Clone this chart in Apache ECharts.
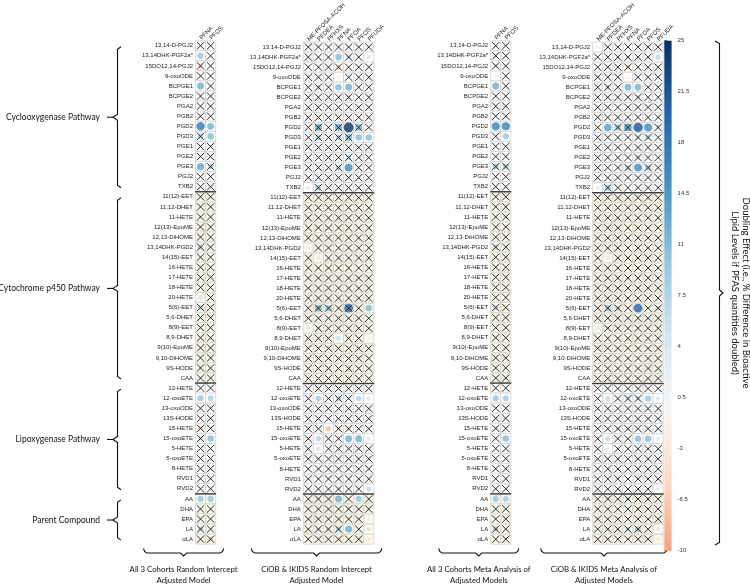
<!DOCTYPE html>
<html><head><meta charset="utf-8">
<script src="https://cdn.jsdelivr.net/npm/echarts@6/dist/echarts.min.js"></script>
<style>html,body{margin:0;padding:0;background:#fff}#c{width:750px;height:587px}</style>
</head><body><div id="c"></div>
<script>
// ---------- data ----------
const coxLipids = ['13,14-D-PGJ2','13,14DHK-PGF2a*','15DO12,14-PGJ2','9-oxoODE','BCPGE1','BCPGE2','PGA2','PGB2','PGD2','PGD3','PGE1','PGE2','PGE3','PGJ2','TXB2'];
const cypLipids = ['11(12)-EET','11,12-DHET','11-HETE','12(13)-EpoME','12,13-DiHOME','13,14DHK-PGD2','14(15)-EET','16-HETE','17-HETE','18-HETE','20-HETE','5(6)-EET','5,6-DHET','8(9)-EET','8,9-DHET','9(10)-EpoME','9,10-DiHOME','9S-HODE','CAA'];
const loxLipids = ['12-HETE','12-oxoETE','13-oxoODE','13S-HODE','15-HETE','15-oxoETE','5-HETE','5-oxoETE','8-HETE','RVD1','RVD2'];
const parentLipids = ['AA','DHA','EPA','LA','αLA'];
const sectionNames = ['Cyclooxygenase Pathway','Cytochrome p450 Pathway','Lipoxygenase Pathway','Parent Compound'];
const pfasTwo = ['PFNA','PFOS'];
const pfasSeven = ['ME-PFOSA-ACOH','PFDEA','PFHXS','PFNA','PFOA','PFOS','PFUDA'];
const colorbarTicks = [-10,-6.5,-3,0.5,4,7.5,11,14.5,18,21.5,25];
const panelTitles = [
  ['All 3 Cohorts Random Intercept','Adjusted Model'],
  ['CiOB & IKIDS Random Intercept','Adjusted Model'],
  ['All 3 Cohorts Meta Analysis of','Adjusted Models'],
  ['CiOB & IKIDS Meta Analysis of','Adjusted Models']
];
const legendTitle = 'Doubling Effect (i.e., % Difference in Bioactive\nLipid Levels if PFAS quantities doubled)';
// cells that are not near zero: [lipid, PFAS, doubling effect %, significant]
// every other cell reads as a plain non-significant X (≈0)
const panel1Cells = [
 ['13,14DHK-PGF2a*','PFNA',10,1],['15DO12,14-PGJ2','PFNA',-6,0],['BCPGE1','PFNA',12.5,1],
 ['PGD2','PFNA',18,1],['PGD2','PFOS',12,1],['PGD3','PFNA',8,0],['PGD3','PFOS',11,1],
 ['PGE3','PFNA',13.5,1],['PGE3','PFOS',8,0],
 ['13,14DHK-PGD2','PFNA',7,0],['20-HETE','PFNA',5,1],['5(6)-EET','PFNA',7,0],
 ['12-oxoETE','PFNA',10,1],['12-oxoETE','PFOS',8.5,1],['15-HETE','PFNA',-6,0],
 ['15-oxoETE','PFNA',6,0],['15-oxoETE','PFOS',11,1],
 ['AA','PFNA',10,1],['AA','PFOS',10,1],['LA','PFNA',7,0],['αLA','PFOS',-6,0]
];
const panel2Cells = [
 ['13,14DHK-PGF2a*','PFNA',11,1],['13,14DHK-PGF2a*','PFOA',6,0],['13,14DHK-PGF2a*','PFUDA',5,1],
 ['15DO12,14-PGJ2','PFNA',-6,0],['9-oxoODE','PFNA',-2,1],
 ['BCPGE1','PFDEA',6,0],['BCPGE1','PFNA',11,1],['BCPGE1','PFOA',12.5,1],['BCPGE2','PFOA',-5,0],
 ['PGD2','PFDEA',13,0],['PGD2','PFNA',13,0],['PGD2','PFOA',25,1],['PGD2','PFOS',12,0],
 ['PGD3','PFDEA',9,0],['PGD3','PFNA',8,0],['PGD3','PFOA',12,0],['PGD3','PFOS',11,1],['PGD3','PFUDA',11,1],
 ['PGE2','PFOA',7,0],['PGE3','PFNA',8,0],['PGE3','PFOA',16,1],
 ['TXB2','ME-PFOSA-ACOH',4,1],['TXB2','PFDEA',9,0],
 ['13,14DHK-PGD2','ME-PFOSA-ACOH',3,1],['14(15)-EET','PFDEA',4,1],
 ['5(6)-EET','PFDEA',12,0],['5(6)-EET','PFHXS',10,0],['5(6)-EET','PFOA',20,0],['5(6)-EET','PFUDA',11,1],
 ['8(9)-EET','ME-PFOSA-ACOH',4,1],['8(9)-EET','PFDEA',6,0],
 ['8,9-DHET','PFNA',6,1],['8,9-DHET','PFUDA',2.5,1],
 ['9S-HODE','PFHXS',-4,0],['9S-HODE','PFOA',-5,0],
 ['12-oxoETE','PFDEA',9,1],['12-oxoETE','PFNA',7,0],['12-oxoETE','PFOA',4,0],['12-oxoETE','PFOS',8,1],['12-oxoETE','PFUDA',5,1],
 ['15-HETE','PFHXS',-8,1],['15-HETE','PFNA',-5,0],['15-HETE','PFOA',-6,0],
 ['15-oxoETE','PFDEA',8,1],['15-oxoETE','PFOA',12.5,1],['15-oxoETE','PFOS',12.5,1],['15-oxoETE','PFUDA',4,1],
 ['5-HETE','PFDEA',5,1],['RVD2','PFNA',4,0],['RVD2','PFUDA',7,1],
 ['AA','PFDEA',4,0],['AA','PFNA',12.5,1],['AA','PFOS',10,1],['DHA','PFOA',5,0],['EPA','PFUDA',2,1],
 ['LA','PFDEA',6,0],['LA','PFHXS',6,0],['LA','PFNA',8,0],['LA','PFOA',12.5,1],['LA','PFUDA',5,1],
 ['αLA','PFNA',-4,0],['αLA','PFOS',-4,0],['αLA','PFUDA',-4,1]
];
const panel3Cells = [
 ['13,14DHK-PGF2a*','PFNA',6,0],['15DO12,14-PGJ2','PFNA',-5,0],['9-oxoODE','PFNA',-2,1],['BCPGE1','PFNA',12.5,1],
 ['PGD2','PFNA',17,1],['PGD2','PFOS',17,1],['PGD3','PFOS',10,1],['PGE3','PFNA',9,0],['PGE3','PFOS',9,0],
 ['13,14DHK-PGD2','PFNA',7,0],['5(6)-EET','PFNA',7,0],
 ['12-oxoETE','PFNA',10,1],['12-oxoETE','PFOS',9,1],['15-HETE','PFNA',-5,0],['15-oxoETE','PFOS',11,1],
 ['AA','PFNA',10,1],['AA','PFOS',9,1],['LA','PFNA',8,0]
];
const panel4Cells = [
 ['13,14-D-PGJ2','ME-PFOSA-ACOH',3,1],['13,14DHK-PGF2a*','PFNA',5,0],['13,14DHK-PGF2a*','PFUDA',7,1],
 ['15DO12,14-PGJ2','PFNA',-6,0],['9-oxoODE','PFNA',-2,1],
 ['BCPGE1','PFDEA',7,0],['BCPGE1','PFNA',12,1],['BCPGE1','PFOA',12,1],['BCPGE2','PFOA',-5,0],
 ['PGD2','PFDEA',14,1],['PGD2','PFHXS',10,0],['PGD2','PFNA',15,0],['PGD2','PFOA',22,1],['PGD2','PFOS',16,1],['PGD2','PFUDA',6,0],
 ['PGD3','PFOA',5,0],['PGD3','PFOS',7,0],['PGE2','PFOA',6,0],
 ['PGE3','PFNA',8,0],['PGE3','PFOA',16,1],['PGE3','PFOS',9,0],
 ['TXB2','ME-PFOSA-ACOH',4,1],['TXB2','PFDEA',9,0],
 ['14(15)-EET','PFDEA',4,1],
 ['5(6)-EET','PFDEA',10,0],['5(6)-EET','PFHXS',7,0],['5(6)-EET','PFOA',20,1],['5(6)-EET','PFUDA',6,0],
 ['8(9)-EET','ME-PFOSA-ACOH',4,1],['8(9)-EET','PFDEA',5,0],
 ['12-oxoETE','PFDEA',7,1],['12-oxoETE','PFNA',6,0],['12-oxoETE','PFOA',6,0],['12-oxoETE','PFOS',10,1],['12-oxoETE','PFUDA',5,1],
 ['15-HETE','PFHXS',-5,0],['15-HETE','PFNA',-5,0],
 ['15-oxoETE','PFDEA',7,1],['15-oxoETE','PFOA',11,1],['15-oxoETE','PFOS',11,1],['15-oxoETE','PFUDA',4,1],
 ['5-HETE','PFDEA',4,1],['RVD2','PFUDA',4,1],
 ['AA','PFDEA',4,0],['AA','PFNA',7,0],['AA','PFOS',6,0],['DHA','PFOA',4,0],
 ['LA','PFDEA',5,0],['LA','PFNA',7,0],['LA','PFOA',9,0],['LA','PFUDA',4,1],
 ['αLA','PFOS',-4,0],['αLA','PFUDA',-4,1]
];
const colorRange = ['#f4a582','#fddbc7','#f7f7f7','#d1e5f0','#92c5de','#4393c3','#2166ac','#053061'];

// ---------- build ----------
const sectionLists = [coxLipids, cypLipids, loxLipids, parentLipids];
const lipids = [].concat(...sectionLists);
const secOf = [], firstOf = [];
sectionLists.forEach((l, s) => l.forEach((n, i) => { secOf.push(s); firstOf.push(i === 0 && s > 0 ? 1 : 0); }));

const CELL = 10.07, TOP = 40.7;
const panels = [
  {cols: pfasTwo, cells: panel1Cells, left: 195.5},
  {cols: pfasSeven, cells: panel2Cells, left: 303.3},
  {cols: pfasTwo, cells: panel3Cells, left: 490.7},
  {cols: pfasSeven, cells: panel4Cells, left: 592.7}
];
const LAB = 'Liberation Sans, Arial, sans-serif';
const grids = [], xAxes = [], yAxes = [], series = [], circleIdx = [];
panels.forEach((p, k) => {
  grids.push({left: p.left, top: TOP, width: p.cols.length * CELL, height: lipids.length * CELL});
  xAxes.push({type: 'category', gridIndex: k, data: p.cols, position: 'top',
    axisLine: {show: false}, axisTick: {show: false}, splitLine: {show: false},
    axisLabel: {rotate: -45, fontSize: 6, color: '#222', margin: 2, interval: 0, fontFamily: LAB}});
  yAxes.push({type: 'category', gridIndex: k, data: lipids, inverse: true,
    axisLine: {show: false}, axisTick: {show: false}, splitLine: {show: false},
    axisLabel: {fontSize: 6, color: '#222', margin: 2.5, interval: 0, fontFamily: LAB}});
  const cellData = [], circ = [], xs = [];
  lipids.forEach((lip, yi) => p.cols.forEach((c, xi) => {
    const f = p.cells.find(e => e[0] === lip && e[1] === c);
    const v = f ? f[2] : 0, sig = f ? f[3] : 0;
    cellData.push([xi, yi, secOf[yi], firstOf[yi]]);
    if (v !== 0) circ.push([xi, yi, v]);
    if (!sig) xs.push([xi, yi]);
  }));
  series.push({type: 'custom', xAxisIndex: k, yAxisIndex: k, z: 1, silent: true,
    encode: {x: 0, y: 1}, data: cellData,
    renderItem(params, api) {
      const pt = api.coord([api.value(0), api.value(1)]);
      const sz = api.size([1, 1]);
      const x0 = pt[0] - sz[0] / 2, y0 = pt[1] - sz[1] / 2;
      const ch = [{type: 'rect', shape: {x: x0, y: y0, width: sz[0], height: sz[1]},
        style: {fill: api.value(2) % 2 ? '#fbf9ea' : '#ffffff', stroke: '#d2d2d2', lineWidth: 0.8}}];
      if (api.value(3)) ch.push({type: 'line', z2: 20, shape: {x1: x0 - 0.5, y1: y0, x2: x0 + sz[0] + 0.5, y2: y0},
        style: {stroke: '#3a3a3a', lineWidth: 1.4}});
      return {type: 'group', children: ch};
    }});
  circleIdx.push(series.length);
  series.push({type: 'scatter', xAxisIndex: k, yAxisIndex: k, z: 2, silent: true,
    data: circ, symbol: 'circle',
    symbolSize: v => Math.sqrt(Math.abs(v[2]) / 25) * CELL * 0.98});
  series.push({type: 'custom', xAxisIndex: k, yAxisIndex: k, z: 3, silent: true,
    encode: {x: 0, y: 1}, data: xs,
    renderItem(params, api) {
      const pt = api.coord([api.value(0), api.value(1)]);
      const s = 3.7;
      const st = {stroke: '#1c1c1c', lineWidth: 0.95};
      return {type: 'group', children: [
        {type: 'line', shape: {x1: pt[0] - s, y1: pt[1] - s, x2: pt[0] + s, y2: pt[1] + s}, style: st},
        {type: 'line', shape: {x1: pt[0] - s, y1: pt[1] + s, x2: pt[0] + s, y2: pt[1] - s}, style: st}]};
    }});
});
// colour bar grid
const cbK = panels.length;
grids.push({left: 664.3, top: TOP, width: 7.3, height: 510});
xAxes.push({type: 'value', gridIndex: cbK, min: 0, max: 1, show: false});
yAxes.push({type: 'value', gridIndex: cbK, min: -10, max: 25, position: 'right',
  axisLine: {show: false}, splitLine: {show: false},
  axisTick: {show: true, length: 3, customValues: colorbarTicks, lineStyle: {color: '#555', width: 0.8}},
  axisLabel: {customValues: colorbarTicks, fontSize: 6, color: '#333', margin: 6, fontFamily: LAB}});
series.push({type: 'custom', xAxisIndex: cbK, yAxisIndex: cbK, silent: true, encode: {x: 0, y: 1},
  data: [[0, 0]],
  renderItem(params, api) {
    const a = api.coord([0, 25]), b = api.coord([1, -10]);
    return {type: 'rect', shape: {x: a[0], y: a[1], width: b[0] - a[0], height: b[1] - a[1]},
      style: {fill: new echarts.graphic.LinearGradient(0, 1, 0, 0,
        colorRange.map((c, i) => ({offset: i / (colorRange.length - 1), color: c})))}};
  }});

const chart = echarts.init(document.getElementById('c'));
chart.setOption({
  animation: false, backgroundColor: '#fff',
  grid: grids, xAxis: xAxes, yAxis: yAxes, series,
  visualMap: {type: 'continuous', show: false, min: -10, max: 25, dimension: 2,
    seriesIndex: circleIdx, inRange: {color: colorRange}}
});

// ---------- annotations (braces & titles) ----------
const TXT = 'Lato, "Open Sans", sans-serif';
const g = [];
const st = {stroke: '#111', lineWidth: 1.1, fill: null};
const rowY = name => chart.convertToPixel({yAxisIndex: 0}, name);
sectionLists.forEach((l, s) => {
  const y1 = rowY(l[0]) + 1, y2 = rowY(l[l.length - 1]) + 1, mid = (y1 + y2) / 2;
  g.push({type: 'polyline', shape: {points: [[121, y1], [117.5, y1 + 2.5], [117.5, mid - 3], [113, mid], [117.5, mid + 3], [117.5, y2 - 2.5], [121, y2]]}, style: st});
  g.push({type: 'line', shape: {x1: 107, y1: mid, x2: 113, y2: mid}, style: st});
  g.push({type: 'text', x: 100, y: mid, style: {text: sectionNames[s], fontSize: 8.5, fontFamily: TXT, fill: '#111', align: 'right', verticalAlign: 'middle'}});
});
panels.forEach((p, k) => {
  const gx0 = chart.convertToPixel({xAxisIndex: k}, p.cols[0]) - CELL / 2;
  const gx1 = gx0 + p.cols.length * CELL;
  const x1 = gx0 - 52, x2 = gx1 + (k === 3 ? 4 : 8), mid = (x1 + x2) / 2, yb = 553;
  g.push({type: 'polyline', shape: {points: [[x1, 548.5], [x1 + 1, 551.5], [x1 + 3.5, yb], [mid - 3, yb], [mid, yb + 3], [mid + 3, yb], [x2 - 3.5, yb], [x2 - 1, 551.5], [x2, 548.5]]}, style: st});
  g.push({type: 'text', x: mid, y: 564, style: {text: panelTitles[k].join('\n'), fontSize: 7.8, lineHeight: 11, fontFamily: TXT, fill: '#111', align: 'center', verticalAlign: 'top'}});
});
// right brace
const rb = {y1: 41, y2: 545};
const rm = (rb.y1 + rb.y2) / 2;
g.push({type: 'polyline', shape: {points: [[715, rb.y1], [719.5, rb.y1 + 2.5], [719.5, rm - 3], [723, rm], [719.5, rm + 3], [719.5, rb.y2 - 2.5], [715, rb.y2]]}, style: st});
g.push({type: 'text', x: 740.5, y: rm, rotation: -Math.PI / 2,
  style: {text: legendTitle, fontSize: 9.5, lineHeight: 11.5, fontFamily: TXT, fill: '#111', align: 'center', verticalAlign: 'middle'}});
chart.setOption({graphic: g});
</script></body></html>
